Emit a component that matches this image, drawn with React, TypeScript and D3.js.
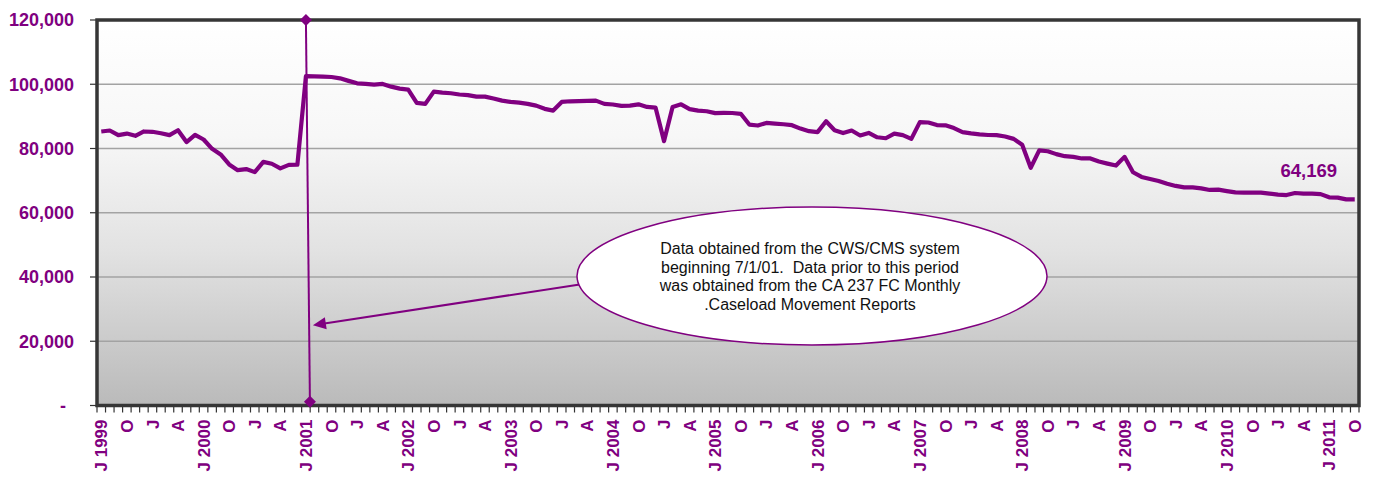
import React from 'react'
import * as d3 from 'd3'

// monthly caseload, July 1999 - October 2011
const caseload = [
  85300, 85600, 84150, 84650, 83950, 85300, 85200, 84750, 84150, 85700, 82000, 84250,
  82800, 79900, 78150, 75050, 73250, 73600, 72650, 75850, 75250, 73800, 74900, 74950,
  102500, 102450, 102350, 102250, 101850, 101050, 100300, 100100, 99900, 100100, 99250, 98650,
  98350, 94200, 93900, 97700, 97400, 97200, 96800, 96600, 96150, 96150, 95550, 94900,
  94500, 94300, 93900, 93350, 92350, 91800, 94500, 94700, 94750, 94800, 94900, 93900,
  93700, 93250, 93350, 93750, 92950, 92750, 82300, 92950, 93750, 92250, 91800, 91600,
  91000, 91100, 91050, 90800, 87450, 87150, 87950, 87750, 87550, 87250, 86200, 85400,
  85100, 88500, 85700, 84800, 85600, 84050, 84850, 83500, 83200, 84650, 84150, 83000,
  88200, 88100, 87300, 87200, 86350, 85100, 84700, 84400, 84200, 84150, 83750, 83000,
  81150, 74000, 79400, 79150, 78250, 77600, 77400, 76900, 76900, 75950, 75300, 74700,
  77400, 72600, 71150, 70500, 69900, 69050, 68350, 67900, 67900, 67600, 67100, 67200,
  66750, 66350, 66250, 66250, 66250, 65950, 65650, 65500, 66150, 65950, 65950, 65800,
  64800, 64700, 64150, 64169,
]

// one label every third month
const monthLabels = [
  'J 1999', 'O', 'J', 'A', 'J 2000', 'O', 'J', 'A', 'J 2001', 'O', 'J', 'A',
  'J 2002', 'O', 'J', 'A', 'J 2003', 'O', 'J', 'A', 'J 2004', 'O', 'J', 'A',
  'J 2005', 'O', 'J', 'A', 'J 2006', 'O', 'J', 'A', 'J 2007', 'O', 'J', 'A',
  'J 2008', 'O', 'J', 'A', 'J 2009', 'O', 'J', 'A', 'J 2010', 'O', 'J', 'A',
  'J 2011', 'O',
]

const yTicks = [0, 20000, 40000, 60000, 80000, 100000, 120000]

const noteLines = [
  'Data obtained from the CWS/CMS system',
  'beginning 7/1/01.  Data prior to this period',
  'was obtained from the CA 237 FC Monthly',
  '.Caseload Movement Reports',
]

const PURPLE = '#800080'
const W = 1377
const H = 477
const left = 97
const right = 1359
const top = 20
const bottom = 405.5

export default function App() {
  const idx = d3.range(caseload.length)
  const x = d3.scaleBand<number>().domain(idx).range([left, right]).padding(0)
  const bw = x.bandwidth()
  const cx = (i: number) => (x(i) as number) + bw / 2
  const y = d3.scaleLinear().domain([0, 120000]).range([bottom, top])

  const line = d3
    .line<number>()
    .x((_, i) => cx(i))
    .y((d) => y(d))

  const fmt = d3.format(',')
  const cutover = 24 // July 2001
  const vx = cx(cutover)
  const last = caseload.length - 1

  // callout
  const ell = { cx: 812, cy: 276, rx: 235, ry: 69 }
  const arrowStart: [number, number] = [ell.cx - ell.rx + 6, ell.cy + 8]
  const arrowEnd: [number, number] = [vx + 7, y(25000)]
  const ang = Math.atan2(arrowEnd[1] - arrowStart[1], arrowEnd[0] - arrowStart[0])

  const diamond = (px: number, py: number, s: number) =>
    `M${px},${py - s}L${px + s},${py}L${px},${py + s}L${px - s},${py}Z`

  return (
    <svg
      width={W}
      height={H}
      style={{ position: 'absolute', left: 0, top: 0, fontFamily: 'Liberation Sans, Arial, sans-serif' }}
    >
      <defs>
        <linearGradient id="bg" x1="0" y1="0" x2="0" y2="1">
          <stop offset="0%" stopColor="#ffffff" />
          <stop offset="30%" stopColor="#f7f7f7" />
          <stop offset="60%" stopColor="#e2e2e2" />
          <stop offset="100%" stopColor="#bababa" />
        </linearGradient>
      </defs>
      <rect x={0} y={0} width={W} height={H} fill="#fff" />
      <rect x={left} y={top} width={right - left} height={bottom - top} fill="url(#bg)" />

      {/* gridlines */}
      {yTicks.slice(1, -1).map((t) => (
        <line key={t} x1={left} x2={right} y1={y(t)} y2={y(t)} stroke="#a3a3a3" strokeWidth={1.5} />
      ))}

      {/* y axis */}
      {yTicks.map((t) => (
        <g key={t}>
          <line x1={left - 7} x2={left} y1={y(t)} y2={y(t)} stroke="#333" strokeWidth={1.2} />
          <text
            x={t === 0 ? 66 : 74}
            y={y(t)}
            dy="0.35em"
            textAnchor="end"
            fill={PURPLE}
            fontWeight="bold"
            fontSize={18}
          >
            {t === 0 ? '-' : fmt(t)}
          </text>
        </g>
      ))}

      {/* x ticks at month boundaries */}
      {d3.range(caseload.length + 1).map((i) => {
        const px = i === caseload.length ? right : (x(i) as number)
        return <line key={i} x1={px} x2={px} y1={bottom} y2={bottom + 7} stroke="#333" strokeWidth={1.2} />
      })}
      {monthLabels.map((lab, k) => {
        const i = k * 3
        return (
          <text
            key={k}
            transform={`translate(${cx(i)},${bottom + 14}) rotate(-90)`}
            dy="0.36em"
            textAnchor="end"
            fill={PURPLE}
            fontWeight="bold"
            fontSize={17}
          >
            {lab}
          </text>
        )
      })}

      {/* frame */}
      <rect x={left} y={top} width={right - left} height={bottom - top} fill="none" stroke="#363636" strokeWidth={3.5} />

      {/* series */}
      <path d={line(caseload) as string} fill="none" stroke={PURPLE} strokeWidth={4.2} strokeLinejoin="round" />

      <text
        x={cx(last) - 46}
        y={y(caseload[last]) - 22}
        textAnchor="middle"
        fill={PURPLE}
        fontWeight="bold"
        fontSize={18.5}
      >
        {fmt(caseload[last])}
      </text>

      {/* cutover marker */}
      <line x1={vx} y1={y(120000)} x2={vx + 4} y2={y(1200)} stroke={PURPLE} strokeWidth={2} />
      <path d={diamond(vx, y(120000), 6)} fill={PURPLE} />
      <path d={diamond(vx + 4, y(1200), 6)} fill={PURPLE} />

      {/* callout arrow */}
      <line
        x1={arrowStart[0]}
        y1={arrowStart[1]}
        x2={arrowEnd[0] - 10 * Math.cos(ang)}
        y2={arrowEnd[1] - 10 * Math.sin(ang)}
        stroke={PURPLE}
        strokeWidth={2}
      />
      <path
        transform={`translate(${arrowEnd[0]},${arrowEnd[1]}) rotate(${(ang * 180) / Math.PI})`}
        d="M0,0L-13,-6L-13,6Z"
        fill={PURPLE}
      />

      <ellipse cx={ell.cx} cy={ell.cy} rx={ell.rx} ry={ell.ry} fill="#fff" stroke={PURPLE} strokeWidth={1.5} />
      {noteLines.map((t, i) => (
        <text
          key={i}
          x={ell.cx - 2}
          y={254 + i * 18.5}
          textAnchor="middle"
          fill="#111"
          fontSize={16}
          style={{ whiteSpace: 'pre' }}
        >
          {t}
        </text>
      ))}
    </svg>
  )
}
